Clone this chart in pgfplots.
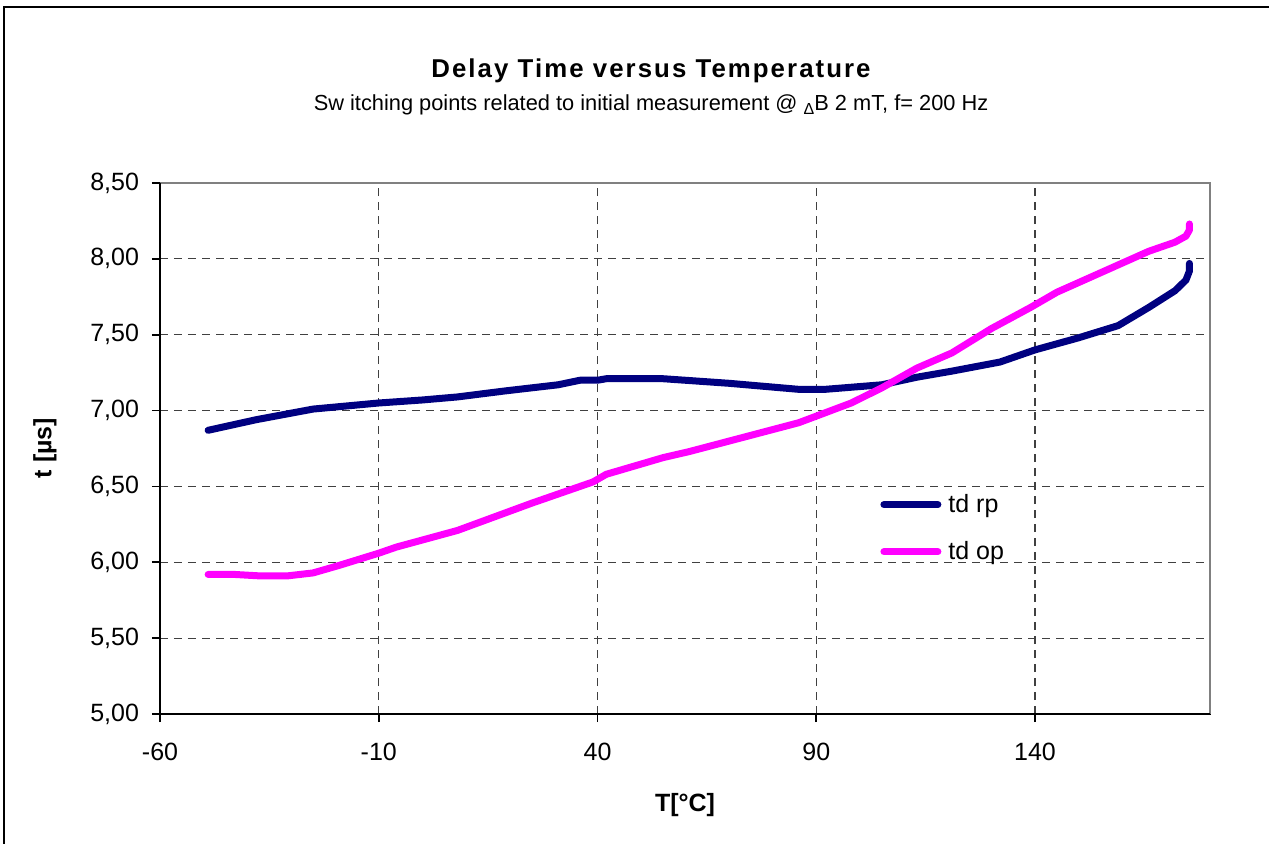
\documentclass[border=0pt]{standalone}
\usepackage{pgfplots}
\pgfplotsset{compat=1.18}
\usepackage{fontspec}
\setmainfont{Liberation Sans}
\newfontfamily\spacedbold[LetterSpace=8]{Liberation Sans}
\definecolor{rpcol}{RGB}{0,0,128}
\definecolor{opcol}{RGB}{255,0,255}
\begin{document}
\begin{tikzpicture}
\clip (0,0) rectangle (634.5pt,421.5pt);
\fill[white] (0,0) rectangle (634.5pt,421.5pt);
\draw[black, line width=0.8pt] (2pt,-10pt) rectangle (650pt,418pt);
\begin{axis}[
  at={(80pt,64.5pt)}, anchor=south west,
  scale only axis, width=525pt, height=265.5pt,
  xmin=-60, xmax=180, ymin=5, ymax=8.5,
  xtick={-60,-10,40,90,140},
  ytick={5,5.5,6,6.5,7,7.5,8,8.5},
  axis line style={line width=1pt},
  tick align=outside, major tick length=4pt,
  tick style={black, line width=0.8pt},
  xtick pos=bottom, ytick pos=left,
  grid=major,
  major grid style={black!75, line width=0.6pt, dash pattern=on 4pt off 3pt},
  /pgf/number format/assume math mode=true,
  yticklabel style={/pgf/number format/fixed, /pgf/number format/fixed zerofill, /pgf/number format/precision=2, /pgf/number format/use comma, xshift=-3pt},
  ticklabel style={font=\fontsize{12.5}{15}\selectfont},
  xticklabel style={yshift=-7pt},
  legend style={at={(0.68,0.43)}, anchor=north west, draw=none, fill=none,
    font=\fontsize{12.5}{15}\selectfont, row sep=9pt},
  legend cell align=left,
  legend image code/.code={\draw[#1, line cap=round] (0pt,0pt) -- (27pt,0pt); \path (28.5pt,0pt);},
]
\addplot[rpcol, line width=3.5pt, line cap=round, line join=round] coordinates {
(-49,6.87) (-38,6.94) (-25,7.01) (-10,7.05) (0,7.07) (8,7.09) (19,7.13) (31,7.17)
(36,7.20) (40,7.20) (42,7.21) (55,7.21) (70,7.18) (86,7.14) (92,7.14) (105,7.17)
(113,7.22) (121,7.26) (132,7.32) (140,7.40) (150,7.48) (159,7.56) (166,7.68)
(172,7.79) (174.5,7.86) (175.3,7.92) (175.3,7.97)
};
\addlegendentry{td rp}
\addplot[opcol, line width=3.5pt, line cap=round, line join=round] coordinates {
(-49,5.92) (-43,5.92) (-37,5.91) (-31,5.91) (-25,5.93) (-19,5.98) (-10,6.06) (-6,6.10)
(8,6.21) (25,6.39) (39,6.53) (42,6.58) (55,6.69) (61,6.73) (86,6.92) (98,7.05)
(105,7.15) (113,7.28) (121,7.38) (130,7.54) (139,7.68) (145,7.78) (159,7.96)
(166,8.05) (172,8.11) (174.5,8.15) (175.3,8.19) (175.3,8.23)
};
\addlegendentry{td op}
\end{axis}
\draw[gray, line width=1pt] (80pt,330pt) -- (605pt,330pt) -- (605pt,64.5pt);
\draw[black, line width=1pt] (80pt,330pt) -- (80pt,64.5pt) -- (605pt,64.5pt);
\node[font=\spacedbold\bfseries\fontsize{12.9}{15}\selectfont] at (325.5pt,386pt) {Delay Time versus Temperature};
\node[font=\fontsize{10.9}{13}\selectfont] at (325.5pt,369pt) {Sw itching points related to initial measurement @ \raisebox{-0.35ex}{\fontsize{8}{9}\selectfont Δ}B 2 mT, f= 200 Hz};
\node[rotate=90, font=\bfseries\fontsize{12.5}{15}\selectfont] at (22.5pt,197.5pt) {t [µs]};
\node[font=\bfseries\fontsize{12.5}{15}\selectfont] at (342.5pt,19pt) {T[°C]};
\end{tikzpicture}
\end{document}
